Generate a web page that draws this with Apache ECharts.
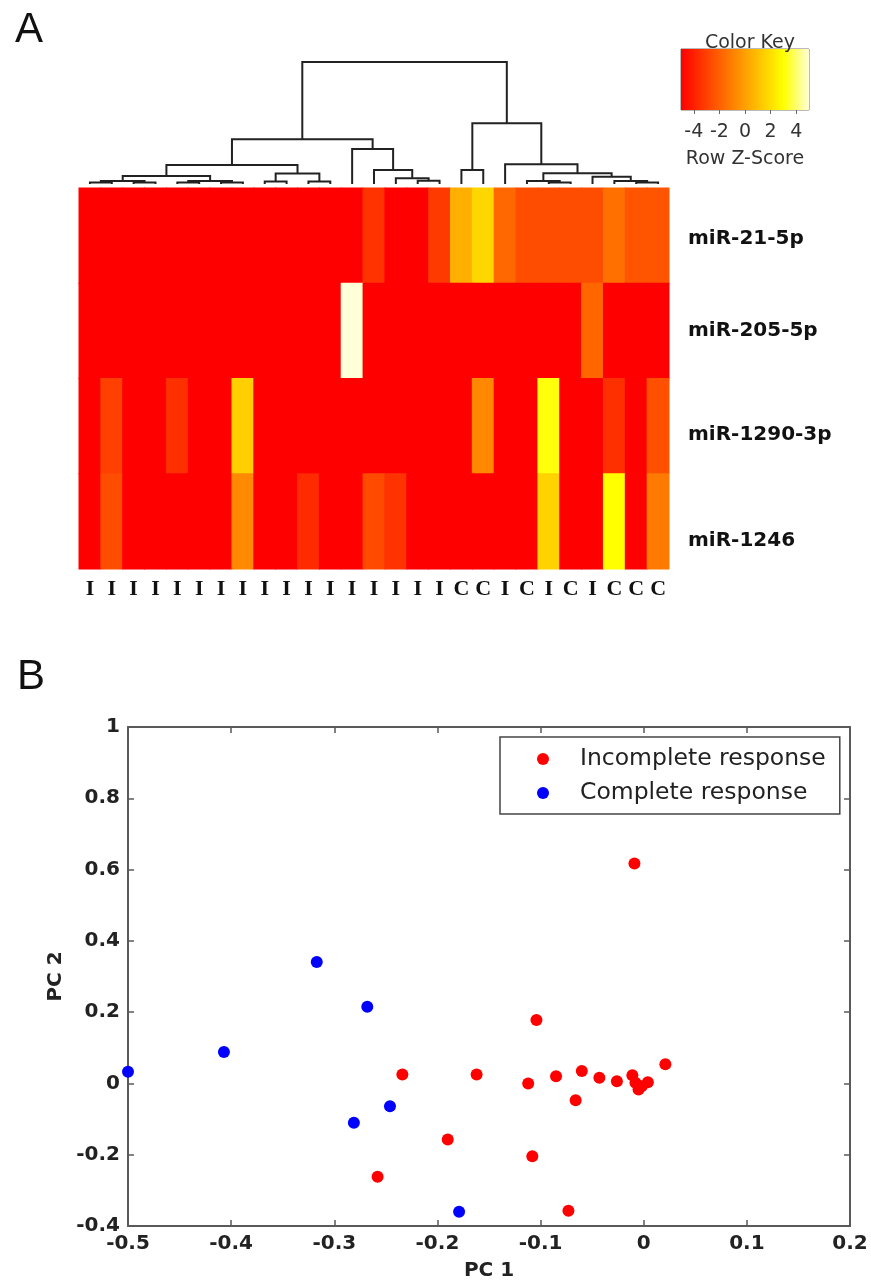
<!DOCTYPE html>
<html>
<head>
<meta charset="utf-8">
<script src="https://cdn.jsdelivr.net/npm/echarts@6/dist/echarts.min.js"></script>
<style>
  html, body { margin: 0; padding: 0; background: #fff; }
  #chart { width: 871px; height: 1288px; }
</style>
</head>
<body>
<div id="chart"></div>
<script>
// ---------- Panel A: heatmap of row z-scores ----------
const rowNames = ['miR-21-5p', 'miR-205-5p', 'miR-1290-3p', 'miR-1246'];
const responseLabels = ['I','I','I','I','I','I','I','I','I','I','I','I','I','I','I','I','I',
                        'C','C','I','C','I','C','I','C','C','C'];

// z-scores per sample (columns in dendrogram order)
const zMiR21   = [-5,-5,-5,-5,-5,-5,-5,-5,-5,-5,-5,-5,-5,-3.4,-5,-5,-3.2,0.5,1.75,-1.75,-2.6,-2.6,-2.6,-2.6,-1.5,-2.35,-2.35];
const zMiR205  = [-5,-5,-5,-5,-5,-5,-5,-5,-5,-5,-5,-5,5,-5,-5,-5,-5,-5,-5,-5,-5,-5,-5,-1.8,-5,-5,-5];
const zMiR1290 = [-5,-3,-5,-5,-3.5,-5,-5,1.5,-5,-5,-5,-5,-5,-5,-5,-5,-5,-5,-0.75,-5,-5,3.1,-5,-5,-3.5,-5,-2.5];
const zMiR1246 = [-5,-2.6,-5,-5,-5,-5,-5,-0.7,-5,-5,-3.7,-5,-5,-2.7,-3.4,-5,-5,-5,-5,-5,-5,1.6,-5,-5,3,-5,-1.2];

// colour key (row z-score scale)
const keyMin = -5, keyMax = 5;
const keyColors = ['#ff0000', '#ff4000', '#ff8000', '#ffbf00', '#ffff00', '#ffffd8'];

// column dendrogram: [left, right, height]; integers are leaf columns
const dendrogram =
  [[[[[[0,1,1.5],[2,3,1.5],3],[[4,5,1.5],[6,7,1.5],3],8],[[8,9,2.5],[10,11,2.5],10.5],19],
    [12,[13,[14,[15,16,3.3],5.7],14],35],44.7],
   [[17,18,14],
    [19,[[20,[21,22,1.5],3],[23,[24,[25,26,1.5],3],7.3],10.7],19.7],60.7],
   122];

// ---------- Panel B: PCA scores ----------
const pcIncomplete = [
  [-0.009,0.617],[-0.104,0.178],[-0.234,0.025],[-0.162,0.025],[-0.112,0.000],
  [-0.085,0.020],[-0.060,0.035],[-0.043,0.016],[-0.026,0.006],[-0.011,0.023],
  [-0.005,-0.017],[0.004,0.003],[0.021,0.054],[-0.066,-0.047],[-0.190,-0.157],
  [-0.108,-0.204],[-0.258,-0.262],[-0.073,-0.357],[-0.008,0.002],[-0.002,-0.008]
];
const pcComplete = [
  [-0.500,0.033],[-0.407,0.088],[-0.317,0.341],[-0.268,0.215],
  [-0.281,-0.110],[-0.246,-0.064],[-0.179,-0.360]
];

// ---------- build data for the library ----------
const zRows = [zMiR21, zMiR205, zMiR1290, zMiR1246];
const heatData = [];
zRows.forEach((row, r) => row.forEach((v, c) => heatData.push([c, r, v])));

const dendroSegments = [];
function layoutNode(node) {
  if (typeof node === 'number') return { x: node + 0.5, h: 0 };
  const l = layoutNode(node[0]);
  const r = layoutNode(node[1]);
  dendroSegments.push([l.x, l.h, r.x, r.h, node[2]]);
  return { x: (l.x + r.x) / 2, h: node[2] };
}
layoutNode(dendrogram);
const rootHeight = dendrogram[2];

const keyStops = keyColors.map((c, i) => ({ offset: i / (keyColors.length - 1), color: c }));

// row labels sit a little below their row centres
const rowLabelShift = [3, 0, 9, 19];
const rowRich = {};
rowNames.forEach((n, i) => {
  rowRich['r' + i] = { fontSize: 20, fontWeight: 'bold', fontFamily: 'DejaVu Sans', color: '#111',
                       padding: [rowLabelShift[i] * 2, 0, 0, 0] };
});

const sans = 'DejaVu Sans';
const axisGrey = '#5a5a5a';

function boxAxis(extra) {
  return Object.assign({
    axisLine: { onZero: false, lineStyle: { color: axisGrey, width: 2 } },
    axisTick: { inside: true, length: 6, lineStyle: { color: axisGrey, width: 1.5 } },
    splitLine: { show: false }
  }, extra);
}

const chart = echarts.init(document.getElementById('chart'), null, { renderer: 'canvas' });

chart.setOption({
  backgroundColor: '#fff',
  animation: false,
  title: [
    { text: 'A', left: 10, top: 4, textStyle: { fontSize: 42, fontWeight: 'normal', fontFamily: 'Liberation Sans', color: '#111' } },
    { text: 'B', left: 12, top: 651, textStyle: { fontSize: 42, fontWeight: 'normal', fontFamily: 'Liberation Sans', color: '#111' } },
    { text: 'Color Key', left: 745, top: 29, textAlign: 'center', textStyle: { fontSize: 19, fontWeight: 'normal', fontFamily: sans, color: '#333' } }
  ],
  grid: [
    { left: 79, top: 188, width: 590, height: 381 },                 // heatmap
    { left: 79, top: 62, width: 590, height: 122 },                  // dendrogram
    { left: 681, top: 49, width: 128, height: 61, show: true,
      borderColor: '#777', borderWidth: 1, backgroundColor: 'transparent' }, // colour key
    { left: 128, right: 21, top: 727, bottom: 62 }                   // PCA scatter
  ],
  xAxis: [
    { gridIndex: 0, type: 'category', data: responseLabels,
      axisLine: { show: false }, axisTick: { show: false },
      axisLabel: { interval: 0, margin: 9, fontSize: 22, fontWeight: 'bold', fontFamily: 'Liberation Serif', color: '#111' } },
    { gridIndex: 1, type: 'value', min: 0, max: responseLabels.length, show: false },
    { gridIndex: 2, type: 'value', min: keyMin, max: keyMax, splitNumber: 5,
      axisLine: { show: false }, splitLine: { show: false },
      axisTick: { show: true, length: 4, lineStyle: { color: '#666' } },
      axisLabel: { margin: 13, fontSize: 19, fontFamily: sans, color: '#333', showMinLabel: false, showMaxLabel: false },
      name: 'Row Z-Score', nameLocation: 'middle', nameGap: 40,
      nameTextStyle: { fontSize: 19, fontFamily: sans, color: '#333' } },
    boxAxis({ gridIndex: 3, type: 'value', min: -0.5, max: 0.2, interval: 0.1, position: 'bottom',
      axisLabel: { margin: 8, fontSize: 20, fontWeight: 'bold', fontFamily: sans, color: '#222' },
      name: 'PC 1', nameLocation: 'middle', nameGap: 35,
      nameTextStyle: { fontSize: 20, fontWeight: 'bold', fontFamily: sans, color: '#222' } }),
    boxAxis({ gridIndex: 3, type: 'value', min: -0.5, max: 0.2, interval: 0.1, position: 'top',
      axisLabel: { show: false } })
  ],
  yAxis: [
    { gridIndex: 0, type: 'category', data: rowNames, inverse: true, position: 'right',
      axisLine: { show: false }, axisTick: { show: false },
      axisLabel: { margin: 19, rich: rowRich,
        formatter: (v, i) => '{r' + i + '|' + v + '}' } },
    { gridIndex: 1, type: 'value', min: 0, max: rootHeight, show: false },
    { gridIndex: 2, type: 'value', min: 0, max: 1, show: false },
    boxAxis({ gridIndex: 3, type: 'value', min: -0.4, max: 1, interval: 0.2, position: 'left',
      axisLabel: { margin: 8, fontSize: 20, fontWeight: 'bold', fontFamily: sans, color: '#222' },
      name: 'PC 2', nameLocation: 'middle', nameGap: 62, nameRotate: 90,
      nameTextStyle: { fontSize: 20, fontWeight: 'bold', fontFamily: sans, color: '#222' } }),
    boxAxis({ gridIndex: 3, type: 'value', min: -0.4, max: 1, interval: 0.2, position: 'right',
      axisLabel: { show: false } })
  ],
  visualMap: {
    type: 'continuous', show: false, seriesIndex: 0, dimension: 2,
    min: keyMin, max: keyMax, inRange: { color: keyColors }
  },
  legend: {
    data: ['Incomplete response', 'Complete response'],
    orient: 'vertical', left: 500, top: 737,
    padding: [10, 14, 9, 37], itemGap: 10,
    itemWidth: 36, itemHeight: 12, icon: 'circle',
    borderColor: '#444', borderWidth: 1.5, backgroundColor: '#fff',
    textStyle: { fontSize: 23.5, fontFamily: sans, color: '#222', padding: [0, 0, 0, 14] }
  },
  series: [
    { type: 'custom', xAxisIndex: 0, yAxisIndex: 0, data: heatData,
      encode: { x: 0, y: 1 }, silent: true,
      renderItem: function (params, api) {
        const p = api.coord([api.value(0), api.value(1)]);
        const s = api.size([1, 1]);
        return { type: 'rect',
                 shape: { x: p[0] - s[0] / 2 - 0.5, y: p[1] - s[1] / 2 - 0.5, width: s[0] + 1, height: s[1] + 1 },
                 style: { fill: api.visual('color') } };
      } },
    { type: 'custom', xAxisIndex: 1, yAxisIndex: 1, data: dendroSegments,
      encode: { x: [0, 2], y: [1, 3, 4] }, silent: true,
      renderItem: function (params, api) {
        const p0 = api.coord([api.value(0), api.value(1)]);
        const p1 = api.coord([api.value(0), api.value(4)]);
        const p2 = api.coord([api.value(2), api.value(4)]);
        const p3 = api.coord([api.value(2), api.value(3)]);
        return { type: 'polyline', shape: { points: [p0, p1, p2, p3] },
                 style: { stroke: '#222', lineWidth: 2, fill: null } };
      } },
    { type: 'custom', xAxisIndex: 2, yAxisIndex: 2, data: [[keyMin, keyMax]], silent: true,
      renderItem: function (params, api) {
        const a = api.coord([api.value(0), 1]);
        const b = api.coord([api.value(1), 0]);
        return { type: 'rect', shape: { x: a[0], y: a[1], width: b[0] - a[0], height: b[1] - a[1] },
                 style: { fill: new echarts.graphic.LinearGradient(0, 0, 1, 0, keyStops) } };
      } },
    { name: 'Incomplete response', type: 'scatter', xAxisIndex: 3, yAxisIndex: 3,
      data: pcIncomplete, symbolSize: 12, clip: false, itemStyle: { color: '#ff0000', opacity: 1 } },
    { name: 'Complete response', type: 'scatter', xAxisIndex: 3, yAxisIndex: 3,
      data: pcComplete, symbolSize: 12, clip: false, itemStyle: { color: '#0000ff', opacity: 1 } }
  ]
});
</script>
</body>
</html>
